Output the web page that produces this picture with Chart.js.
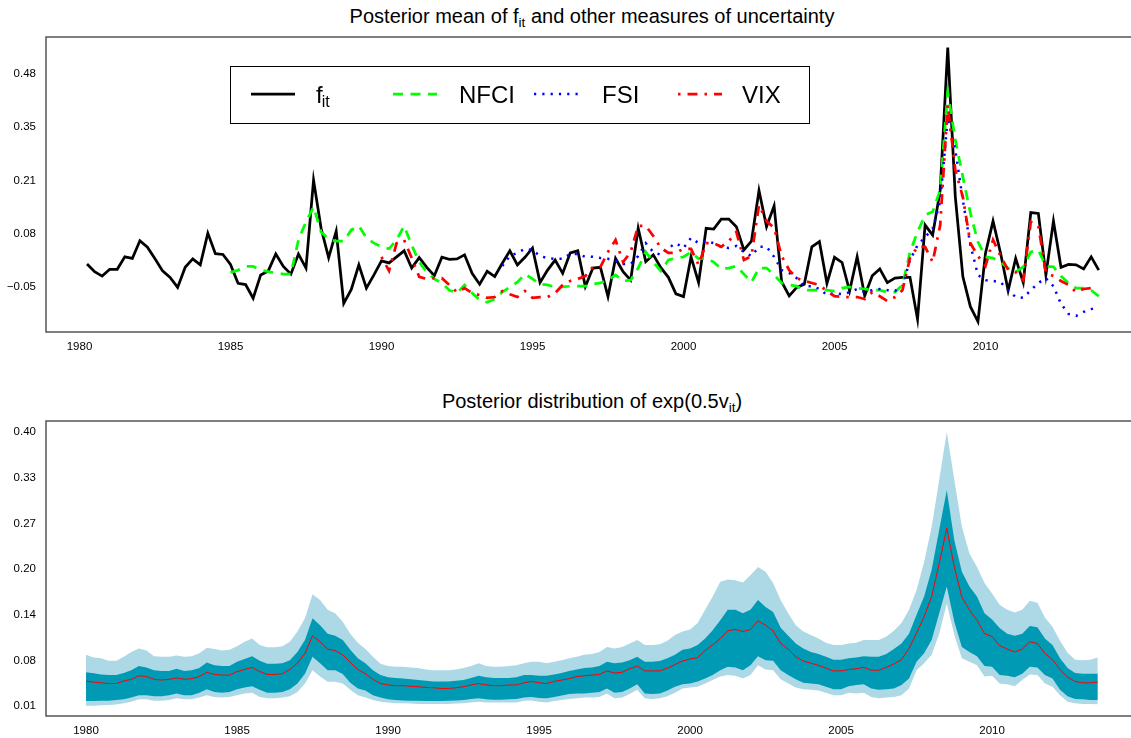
<!DOCTYPE html>
<html>
<head>
<meta charset="utf-8">
<script src="https://cdn.jsdelivr.net/npm/chart.js@4.4.1/dist/chart.umd.min.js"></script>
<style>
  body { margin: 0; background: #fff; width: 1131px; height: 738px; overflow: hidden; position: relative;
         font-family: "Liberation Sans", Arial, sans-serif; }
  .title { position: absolute; left: 52px; width: 1080px; text-align: center; font-size: 20px; line-height: 20px; color: #000; white-space: nowrap; }
  .title .sub { font-size: 13.5px; position: relative; top: 4px; }
  #t1 { top: 6px; }
  #t2 { top: 391px; }
  #topChart { position: absolute; left: 0; top: 0; }
  #bottomChart { position: absolute; left: 0; top: 370px; }
</style>
</head>
<body>
<div class="title" id="t1">Posterior mean of f<span class="sub">it</span> and other measures of uncertainty</div>
<div class="title" id="t2">Posterior distribution of exp(0.5v<span class="sub">it</span>)</div>
<canvas id="topChart" width="1131" height="360"></canvas>
<canvas id="bottomChart" width="1131" height="368"></canvas>
<script>
// quarterly series, top panel starts 1980Q2, bottom panel 1980Q1
const fMean = [0.007,-0.012,-0.023,-0.006,-0.006,0.025,0.021,0.065,0.049,0.020,
  -0.010,-0.026,-0.051,-0.001,0.020,0.005,0.084,0.033,0.031,0.006,
  -0.041,-0.044,-0.078,-0.020,-0.010,0.032,0.001,-0.018,0.032,-0.003,
  0.216,0.096,0.023,0.089,-0.091,-0.056,0.005,-0.053,-0.020,0.015,
  0.010,0.025,0.040,-0.003,0.023,-0.001,-0.022,0.024,0.019,0.020,
  0.030,-0.016,-0.043,-0.011,-0.024,0.009,0.040,0.005,0.024,0.047,
  -0.039,-0.008,0.017,-0.016,0.035,0.040,-0.049,-0.003,-0.001,-0.074,
  0.021,-0.012,-0.033,0.096,0.013,0.030,-0.002,-0.026,-0.067,-0.074,
  0.025,-0.039,0.096,0.094,0.119,0.119,0.100,0.042,0.064,0.190,
  0.100,0.152,-0.037,-0.072,-0.051,-0.043,0.050,0.063,-0.041,0.024,
  0.011,-0.060,0.025,-0.072,-0.022,-0.005,-0.039,-0.028,-0.026,-0.026,
  -0.130,0.104,0.079,0.191,0.546,0.175,-0.024,-0.099,-0.136,0.034,
  0.114,0.034,-0.059,0.021,-0.039,0.135,0.133,-0.020,0.114,-0.001,
  0.006,0.005,-0.005,0.025,-0.008];

const nfci = [null,null,null,null,null,null,null,null,null,null,
  null,null,null,null,null,null,null,null,null,
  -0.014,-0.008,0.001,0.001,-0.008,-0.012,-0.015,-0.018,-0.018,0.067,
  0.112,0.149,0.087,0.069,0.064,0.064,0.092,0.102,0.072,0.059,
  0.050,0.045,0.067,0.102,0.054,0.012,-0.013,-0.030,-0.040,-0.058,
  -0.065,-0.045,-0.065,-0.082,-0.088,-0.080,-0.063,-0.050,-0.038,-0.018,
  -0.030,-0.043,-0.045,-0.050,-0.050,-0.048,-0.048,-0.048,-0.043,-0.040,
  -0.033,-0.020,-0.035,-0.033,-0.003,0.037,0.012,-0.010,0.017,0.022,
  0.025,0.037,0.020,0.022,0.012,-0.005,-0.003,0.002,-0.018,-0.038,
  -0.003,-0.003,-0.020,-0.040,-0.045,-0.048,-0.058,-0.058,-0.058,-0.058,
  -0.060,-0.053,-0.050,-0.053,-0.055,-0.058,-0.058,-0.063,-0.063,-0.045,
  0.037,0.087,0.129,0.137,0.191,0.435,0.316,0.224,0.134,0.062,
  0.025,0.022,0.012,-0.003,-0.013,0.000,0.037,0.042,0.002,0.000,
  -0.023,-0.040,-0.053,-0.053,-0.058,-0.073];

const fsi = [null,null,null,null,null,null,null,null,null,null,
  null,null,null,null,null,null,null,null,null,null,
  null,null,null,null,null,null,null,null,null,null,
  null,null,null,null,null,null,null,null,null,null,
  null,null,null,null,null,null,null,null,null,null,
  null,null,null,null,null,
  0.002,0.027,0.035,0.045,0.042,0.027,0.022,0.020,0.020,0.032,
  0.032,0.025,0.025,0.022,0.020,0.015,0.007,0.007,0.027,0.059,
  0.037,0.030,0.047,0.059,0.047,0.072,0.059,0.064,0.059,0.050,
  0.047,0.052,0.037,0.027,0.050,0.050,0.025,-0.008,-0.015,-0.028,
  -0.048,-0.048,-0.055,-0.070,-0.065,-0.068,-0.063,-0.055,-0.063,-0.058,
  -0.055,-0.058,-0.060,-0.048,0.017,0.054,0.074,0.095,0.162,0.371,
  0.291,0.166,0.054,-0.020,-0.033,-0.035,-0.038,-0.058,-0.075,-0.077,
  -0.058,-0.040,-0.028,-0.048,-0.092,-0.117,-0.122,-0.112,-0.105,-0.100];

const vix = [null,null,null,null,null,null,null,null,null,null,
  null,null,null,null,null,null,null,null,null,null,
  null,null,null,null,null,null,null,null,null,null,
  null,null,null,null,null,null,null,null,null,
  0.025,-0.010,0.059,0.067,0.022,-0.025,-0.030,-0.028,-0.028,-0.045,
  -0.063,-0.053,-0.065,-0.070,-0.077,-0.075,-0.060,-0.068,-0.075,-0.060,
  -0.077,-0.075,-0.075,-0.065,-0.045,-0.035,-0.030,-0.023,0.000,0.000,
  0.037,0.067,0.012,0.037,0.102,0.102,0.077,0.047,0.035,0.035,
  0.045,0.045,0.005,0.059,0.059,0.050,0.064,0.087,0.017,0.027,
  0.154,0.114,0.097,0.027,-0.008,-0.028,-0.035,-0.040,-0.045,-0.060,
  -0.073,-0.075,-0.075,-0.075,-0.080,-0.063,-0.073,-0.085,-0.075,-0.058,
  0.022,0.050,0.050,0.012,0.104,0.403,0.241,0.174,0.059,0.027,
  0.002,0.067,0.027,-0.008,-0.013,-0.033,0.112,0.102,-0.015,-0.023,
  -0.035,-0.045,-0.063,-0.055,-0.053,null];

// posterior of exp(0.5 v_it): outer band, inner band, median
const outerHi = [0.083,0.079,0.078,0.0745,0.0745,0.080,0.087,0.092,0.089,0.081,
  0.080,0.080,0.082,0.080,0.081,0.085,0.093,0.091,0.089,0.090,
  0.095,0.1015,0.106,0.097,0.0935,0.0935,0.095,0.1015,0.116,0.135,
  0.169,0.161,0.147,0.142,0.130,0.113,0.100,0.091,0.080,0.070,
  0.067,0.066,0.066,0.065,0.064,0.062,0.061,0.061,0.061,0.062,
  0.064,0.067,0.071,0.067,0.066,0.066,0.067,0.068,0.071,0.073,
  0.073,0.071,0.073,0.075,0.078,0.080,0.083,0.084,0.087,0.094,
  0.092,0.094,0.099,0.104,0.097,0.097,0.098,0.103,0.111,0.116,
  0.119,0.128,0.147,0.166,0.187,0.190,0.189,0.186,0.196,0.208,
  0.201,0.185,0.161,0.142,0.125,0.116,0.111,0.106,0.100,0.097,
  0.097,0.099,0.100,0.104,0.104,0.104,0.109,0.117,0.128,0.147,
  0.175,0.215,0.265,0.332,0.400,0.332,0.265,0.227,0.208,0.185,
  0.170,0.154,0.147,0.143,0.147,0.160,0.157,0.136,0.123,0.103,
  0.086,0.076,0.075,0.076,0.079];

const innerHi = [0.058,0.0565,0.055,0.054,0.054,0.057,0.061,0.067,0.065,0.061,
  0.060,0.060,0.063,0.060,0.061,0.064,0.072,0.068,0.067,0.067,
  0.073,0.077,0.081,0.0745,0.070,0.070,0.071,0.075,0.087,0.104,
  0.135,0.125,0.113,0.110,0.104,0.090,0.078,0.071,0.061,0.054,
  0.051,0.050,0.049,0.048,0.047,0.046,0.045,0.045,0.045,0.046,
  0.047,0.050,0.053,0.051,0.050,0.050,0.050,0.051,0.054,0.054,
  0.053,0.053,0.055,0.057,0.060,0.062,0.064,0.065,0.067,0.073,
  0.071,0.072,0.075,0.080,0.073,0.073,0.074,0.078,0.083,0.090,
  0.092,0.097,0.106,0.118,0.132,0.147,0.147,0.142,0.147,0.161,
  0.151,0.144,0.1215,0.110,0.099,0.092,0.087,0.084,0.080,0.076,
  0.076,0.078,0.079,0.081,0.080,0.080,0.084,0.091,0.099,0.113,
  0.140,0.166,0.204,0.261,0.317,0.246,0.201,0.180,0.166,0.142,
  0.133,0.121,0.113,0.110,0.113,0.124,0.122,0.106,0.097,0.078,
  0.064,0.057,0.056,0.056,0.056];

const median = [0.0455,0.044,0.043,0.042,0.042,0.0455,0.048,0.053,0.052,0.048,
  0.047,0.048,0.050,0.048,0.049,0.052,0.058,0.055,0.054,0.054,
  0.059,0.062,0.065,0.059,0.055,0.055,0.056,0.062,0.071,0.085,
  0.110,0.1015,0.091,0.089,0.083,0.072,0.062,0.056,0.048,0.042,
  0.040,0.039,0.039,0.038,0.0375,0.0365,0.036,0.035,0.035,0.036,
  0.0375,0.040,0.042,0.040,0.039,0.039,0.040,0.040,0.043,0.045,
  0.043,0.042,0.045,0.047,0.049,0.052,0.053,0.054,0.055,0.060,
  0.057,0.058,0.063,0.067,0.060,0.060,0.060,0.064,0.069,0.074,
  0.077,0.079,0.089,0.097,0.106,0.117,0.119,0.116,0.119,0.131,
  0.125,0.117,0.099,0.091,0.080,0.074,0.071,0.068,0.064,0.060,
  0.060,0.062,0.063,0.065,0.061,0.061,0.065,0.070,0.076,0.092,
  0.114,0.137,0.166,0.213,0.263,0.208,0.165,0.147,0.132,0.113,
  0.109,0.096,0.091,0.087,0.091,0.1015,0.099,0.085,0.076,0.062,
  0.051,0.045,0.043,0.043,0.044];

const innerLo = [0.017,0.017,0.0175,0.0175,0.0185,0.0195,0.022,0.0255,0.0255,0.024,
  0.024,0.0255,0.028,0.0255,0.0255,0.029,0.034,0.030,0.029,0.030,
  0.034,0.0365,0.038,0.033,0.029,0.029,0.030,0.034,0.042,0.056,
  0.080,0.071,0.061,0.061,0.0555,0.043,0.035,0.032,0.0255,0.022,
  0.0195,0.0185,0.018,0.0175,0.0175,0.017,0.017,0.017,0.0175,0.018,
  0.0185,0.020,0.021,0.0195,0.019,0.019,0.0195,0.020,0.022,0.023,
  0.0215,0.021,0.023,0.025,0.027,0.028,0.028,0.029,0.030,0.035,
  0.029,0.030,0.035,0.041,0.028,0.027,0.028,0.032,0.0375,0.041,
  0.042,0.045,0.049,0.054,0.061,0.066,0.065,0.061,0.068,0.081,
  0.075,0.0745,0.061,0.054,0.048,0.043,0.042,0.041,0.0375,0.034,
  0.034,0.038,0.040,0.041,0.035,0.033,0.034,0.035,0.040,0.049,
  0.073,0.085,0.104,0.142,0.180,0.130,0.094,0.087,0.081,0.067,
  0.066,0.054,0.053,0.051,0.056,0.066,0.065,0.054,0.049,0.033,
  0.024,0.020,0.0195,0.0185,0.0185];

const outerLo = [0.0105,0.0105,0.011,0.0115,0.012,0.014,0.016,0.0195,0.0195,0.0175,
  0.0175,0.0185,0.021,0.0195,0.0195,0.022,0.0255,0.023,0.022,0.023,
  0.0255,0.028,0.029,0.023,0.021,0.021,0.022,0.024,0.030,0.042,
  0.061,0.052,0.0445,0.0445,0.042,0.033,0.0255,0.022,0.0185,0.016,
  0.015,0.014,0.014,0.0135,0.013,0.013,0.013,0.013,0.013,0.0135,
  0.014,0.015,0.016,0.015,0.015,0.015,0.015,0.015,0.0175,0.018,
  0.016,0.015,0.017,0.0185,0.020,0.021,0.022,0.022,0.023,0.028,
  0.021,0.022,0.027,0.033,0.021,0.020,0.021,0.024,0.029,0.035,
  0.0365,0.0375,0.042,0.047,0.052,0.054,0.053,0.049,0.054,0.068,
  0.062,0.061,0.048,0.042,0.0365,0.034,0.033,0.032,0.029,0.0255,
  0.0255,0.029,0.028,0.029,0.023,0.021,0.022,0.023,0.0255,0.035,
  0.061,0.071,0.083,0.113,0.156,0.111,0.078,0.073,0.068,0.052,
  0.053,0.042,0.041,0.038,0.047,0.055,0.054,0.042,0.0375,0.0255,
  0.016,0.014,0.013,0.013,0.0125];

// axis ticks
const xYears = [1980, 1985, 1990, 1995, 2000, 2005, 2010];
const topYTicks = [-0.05, 0.0825, 0.215, 0.3475, 0.48];
const topYLabels = ["\u22120.05", "0.08", "0.21", "0.35", "0.48"];
const botYTicks = [0.01, 0.075, 0.14, 0.205, 0.27, 0.335, 0.40];
const botYLabels = ["0.01", "0.08", "0.14", "0.20", "0.27", "0.33", "0.40"];

const topDates = [];
for (let q = 0; q < fMean.length; q++) topDates.push(1980.25 + q / 4);
const botDates = [];
for (let q = 0; q < median.length; q++) botDates.push(1980 + q / 4);

const toXY = (dates, vals) => vals.map((v, i) => ({ x: dates[i], y: v }));

Chart.defaults.font.family = '"Liberation Sans", Arial, sans-serif';
Chart.defaults.color = '#000';

// box on top, left and bottom of the plot region
const boxPlugin = {
  id: 'box',
  afterDraw(chart) {
    const { ctx, chartArea: a } = chart;
    ctx.save();
    ctx.strokeStyle = '#555';
    ctx.lineWidth = 1.5;
    ctx.beginPath();
    ctx.moveTo(a.right + 2, a.top);
    ctx.lineTo(a.left, a.top);
    ctx.lineTo(a.left, a.bottom);
    ctx.lineTo(a.right + 2, a.bottom);
    ctx.stroke();
    ctx.restore();
  }
};

// R-style legend box inside the top plot
const legendPlugin = {
  id: 'rlegend',
  afterDraw(chart) {
    const ctx = chart.ctx;
    const lineX = [251, 393, 534, 678];
    const textX = [316, 459, 602, 742];
    ctx.save();
    ctx.fillStyle = '#fff';
    ctx.fillRect(230, 66, 580, 58);
    ctx.strokeStyle = '#000';
    ctx.lineWidth = 1;
    ctx.strokeRect(230.5, 66.5, 579, 57);
    chart.data.datasets.forEach((ds, i) => {
      ctx.strokeStyle = ds.borderColor;
      ctx.lineWidth = ds.borderWidth;
      ctx.lineCap = 'butt';
      ctx.setLineDash(ds.borderDash || []);
      ctx.beginPath();
      ctx.moveTo(lineX[i], 94);
      ctx.lineTo(lineX[i] + 44, 94);
      ctx.stroke();
      ctx.setLineDash([]);
      ctx.fillStyle = '#000';
      ctx.font = '24px "Liberation Sans", Arial, sans-serif';
      ctx.fillText(ds.label, textX[i], 102.5);
      if (ds.sub) {
        const w = ctx.measureText(ds.label).width;
        ctx.font = '16px "Liberation Sans", Arial, sans-serif';
        ctx.fillText(ds.sub, textX[i] + w - 1, 106.5);
      }
    });
    ctx.restore();
  }
};

function axes(xMin, xMax, yMin, yMax, yTicks, yLabels, xHeight, xPad) {
  return {
    x: {
      type: 'linear', min: xMin, max: xMax,
      grid: { display: false, drawTicks: false },
      border: { display: false },
      afterBuildTicks: (s) => { s.ticks = xYears.map(v => ({ value: v })); },
      afterFit: (s) => { s.height = xHeight; },
      ticks: { padding: xPad, autoSkip: false, maxRotation: 0, font: { size: 11.5 }, callback: (v) => String(v) }
    },
    y: {
      min: yMin, max: yMax,
      grid: { display: false, drawTicks: false },
      border: { display: false },
      afterBuildTicks: (s) => { s.ticks = yTicks.map(v => ({ value: v })); },
      afterFit: (s) => { s.width = 46; },
      ticks: { padding: 10, autoSkip: false, font: { size: 11.5 }, callback: (v, i) => yLabels[i] }
    }
  };
}

const common = {
  responsive: false,
  animation: false,
  devicePixelRatio: 1,
  events: [],
  plugins: { legend: { display: false }, title: { display: false }, tooltip: { enabled: false } },
  elements: { point: { radius: 0 }, line: { tension: 0, borderCapStyle: 'butt' } }
};

new Chart(document.getElementById('topChart'), {
  type: 'line',
  data: {
    datasets: [
      { label: 'f', sub: 'it', data: toXY(topDates, fMean), borderColor: '#000000', borderWidth: 2.75, order: 4 },
      { label: 'NFCI', data: toXY(topDates, nfci), borderColor: '#00ff00', borderWidth: 2.75, borderDash: [10, 7.5], order: 3 },
      { label: 'FSI', data: toXY(topDates, fsi), borderColor: '#0000ff', borderWidth: 2.5, borderDash: [2.2, 6.1], order: 2 },
      { label: 'VIX', data: toXY(topDates, vix), borderColor: '#ff0000', borderWidth: 2.75, borderDash: [2.5, 7, 10, 7], order: 1 }
    ]
  },
  options: Object.assign({}, common, {
    layout: { padding: { top: 37, left: 0, right: 0, bottom: 0 } },
    scales: axes(1978.891, 2014.818, -0.162, 0.572, topYTicks, topYLabels, 28, 8)
  }),
  plugins: [boxPlugin, legendPlugin]
});

new Chart(document.getElementById('bottomChart'), {
  type: 'line',
  data: {
    datasets: [
      { label: 'outer upper', data: toXY(botDates, outerHi), borderWidth: 0, borderColor: 'rgba(0,0,0,0)', backgroundColor: '#add8e6', fill: '+1', order: 5 },
      { label: 'outer lower', data: toXY(botDates, outerLo), borderWidth: 0, borderColor: 'rgba(0,0,0,0)', fill: false, order: 4 },
      { label: 'inner upper', data: toXY(botDates, innerHi), borderWidth: 0, borderColor: 'rgba(0,0,0,0)', backgroundColor: '#009ab4', fill: '+1', order: 3 },
      { label: 'inner lower', data: toXY(botDates, innerLo), borderWidth: 0, borderColor: 'rgba(0,0,0,0)', fill: false, order: 2 },
      { label: 'median', data: toXY(botDates, median), borderWidth: 1, borderColor: '#ff0000', fill: false, order: 1 }
    ]
  },
  options: Object.assign({}, common, {
    layout: { padding: { top: 51, left: 0, right: 0, bottom: 0 } },
    scales: axes(1978.675, 2014.60, -0.0042, 0.4157, botYTicks, botYLabels, 22, 8)
  }),
  plugins: [boxPlugin]
});
</script>
</body>
</html>
